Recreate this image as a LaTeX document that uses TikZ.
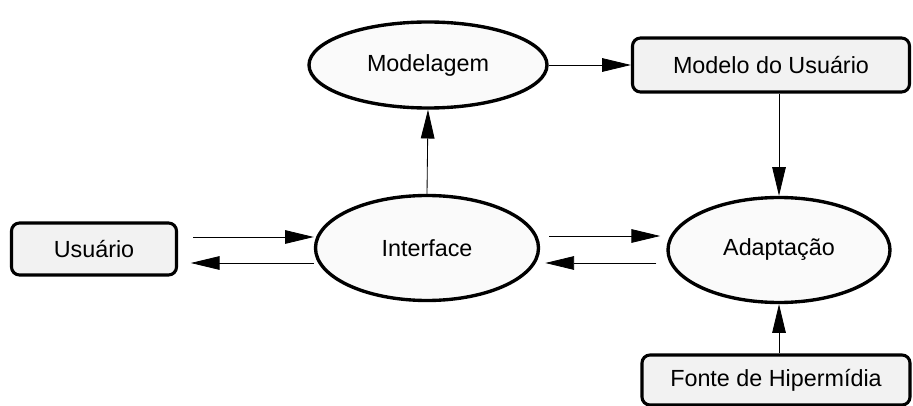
\documentclass[tikz,border=0pt]{standalone}
\usepackage{fontspec}
\setmainfont{Liberation Sans}
\usetikzlibrary{arrows.meta,shapes.geometric}

\definecolor{boxfill}{HTML}{F2F2F2}
\definecolor{ellfill}{HTML}{FAFAFA}

\begin{document}
\begin{tikzpicture}[x=0.025cm,y=-0.025cm,
        every node/.style={font=\fontsize{16.6}{19}\selectfont},
        databox/.style={draw, line width=2.2pt, rounded corners=0.2cm, fill=boxfill, inner sep=0pt},
        process/.style={draw, ellipse, line width=2.4pt, fill=ellfill, inner sep=0pt},
        flow/.style={line width=0.6pt, -{Triangle[length=0.72cm,width=0.34cm]}}]
        \useasboundingbox (0,0) rectangle (913,406);

        % Boxes
        \node[databox, minimum width=165*0.025cm, minimum height=52*0.025cm] (usuario) at (94,249) {Usuário};
        \node[databox, minimum width=277*0.025cm, minimum height=54*0.025cm] (modelo) at (771,65) {Modelo do Usuário};
        \node[databox, minimum width=268*0.025cm, minimum height=50*0.025cm] (fonte) at (776,380) {Fonte de Hipermídia};

        % Ellipses
        \node[process, minimum width=238*0.025cm, minimum height=86*0.025cm] (modelagem) at (428,65) {Modelagem};
        \node[process, minimum width=223*0.025cm, minimum height=105*0.025cm] (interface) at (427,248) {Interface};
        \node[process, minimum width=222*0.025cm, minimum height=105*0.025cm] (adaptacao) at (779,250) {Adaptação};

        % Usuario <-> Interface
        \draw[flow] ([yshift=12*0.025cm]usuario.east) ++(15,0) -- ([yshift=12*0.025cm]usuario.east -| interface.west);
        \draw[flow] ([yshift=-14*0.025cm]usuario.east -| interface.west) -- ++(-123,0);

        % Interface <-> Adaptacao
        \draw[flow] ([yshift=12*0.025cm]interface.east) ++(9,0) -- ++(111,0);
        \draw[flow] ([yshift=-13*0.025cm]adaptacao.west) ++(-10,0) -- ++(-111,0);

        % Vertical flows
        \draw[flow] (interface.north) -- (modelagem.south);
        \draw[flow] (modelagem.east) -- (modelagem.east -| modelo.west);
        \draw[flow] (modelo.south -| adaptacao.north) -- (adaptacao.north);
        \draw[flow] (fonte.north -| adaptacao.south) -- (adaptacao.south);
    \end{tikzpicture}
\end{document}
